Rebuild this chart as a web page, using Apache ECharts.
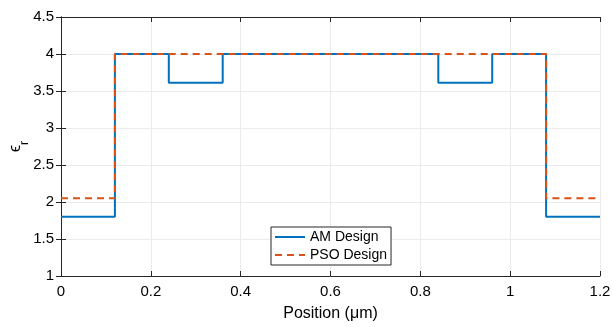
<!DOCTYPE html>
<html lang="en" style="height: 100%">
<head>
<meta charset="utf-8">
<title>Permittivity profile</title>
</head>
<body style="height: 100%; margin: 0; background: #fff">
<div id="container" style="width: 613px; height: 327px"></div>
<script type="text/javascript" src="https://cdn.jsdelivr.net/npm/echarts@6/dist/echarts.min.js"></script>
<script type="text/javascript">
// segment start positions (um), and the value held until the next one
var positions = [0, 0.12, 0.24, 0.36, 0.84, 0.96, 1.08, 1.2];
var amValues  = [1.8, 4, 3.61, 4, 3.61, 4, 1.8, 1.8];
var psoValues = [2.05, 4, 4, 4, 4, 4, 2.05, 2.05];
var xTicks = [0, 0.2, 0.4, 0.6, 0.8, 1, 1.2];
var yTicks = [1, 1.5, 2, 2.5, 3, 3.5, 4, 4.5];

function pairs(vals) {
    return positions.map(function (x, i) { return [x, vals[i]]; });
}

var font = 'Liberation Sans, Arial, Helvetica, sans-serif';
var axisColor = '#262626';

var chart = echarts.init(document.getElementById('container'));

var option = {
    animation: false,
    textStyle: { fontFamily: font },
    grid: { left: 61, right: 13, top: 17, bottom: 51, outerBoundsMode: 'none', containLabel: false },
    legend: {
        orient: 'vertical',
        left: 271,
        top: 227,
        padding: [3, 4, 3, 3],
        itemGap: 4,
        itemWidth: 30,
        itemHeight: 15,
        borderColor: axisColor,
        borderWidth: 1,
        backgroundColor: '#fff',
        itemStyle: { opacity: 0 },
        textStyle: { fontSize: 14, color: '#000', fontFamily: font },
        data: ['AM Design', 'PSO Design']
    },
    xAxis: [{
        type: 'value',
        min: 0, max: 1.2, interval: 0.2,
        name: 'Position (\u03bcm)',
        nameLocation: 'middle',
        nameGap: 30,
        nameTextStyle: { fontSize: 16, color: '#000' },
        axisLine: { show: true, lineStyle: { color: axisColor } },
        axisTick: { inside: true, length: 5, lineStyle: { color: axisColor } },
        axisLabel: { fontSize: 15, color: '#000', margin: 8 },
        splitLine: { show: true, lineStyle: { color: '#ebebeb' } }
    }, {
        type: 'value', position: 'top',
        min: 0, max: 1.2, interval: 0.2,
        axisLine: { show: true, lineStyle: { color: axisColor } },
        axisTick: { inside: true, length: 5, lineStyle: { color: axisColor } },
        axisLabel: { show: false },
        splitLine: { show: false }
    }],
    yAxis: [{
        type: 'value',
        min: 1, max: 4.5, interval: 0.5,
        name: '{e|\u03f5}{s|r}',
        nameLocation: 'middle',
        nameRotate: 90,
        nameGap: 30,
        nameMoveOverlap: false,
        nameTextStyle: {
            color: '#000',
            rich: {
                e: { fontSize: 16, color: '#000', verticalAlign: 'top', lineHeight: 18 },
                s: { fontSize: 12, color: '#000', verticalAlign: 'bottom', lineHeight: 23 }
            }
        },
        axisLine: { show: true, lineStyle: { color: axisColor } },
        axisTick: { inside: true, length: 5, lineStyle: { color: axisColor } },
        axisLabel: { fontSize: 15, color: '#000', margin: 7 },
        splitLine: { show: true, lineStyle: { color: '#ebebeb' } }
    }, {
        type: 'value', position: 'right',
        min: 1, max: 4.5, interval: 0.5,
        axisLine: { show: true, lineStyle: { color: axisColor } },
        axisTick: { inside: true, length: 5, lineStyle: { color: axisColor } },
        axisLabel: { show: false },
        splitLine: { show: false }
    }],
    series: [{
        name: 'AM Design',
        type: 'line',
        step: 'end',
        symbol: 'none',
        data: pairs(amValues),
        lineStyle: { color: '#0072BD', width: 2 },
        itemStyle: { color: '#0072BD' }
    }, {
        name: 'PSO Design',
        type: 'line',
        step: 'end',
        symbol: 'none',
        data: pairs(psoValues),
        lineStyle: { color: '#D95319', width: 2, type: [7, 5] },
        itemStyle: { color: '#D95319' }
    }]
};

chart.setOption(option);
</script>
</body>
</html>
